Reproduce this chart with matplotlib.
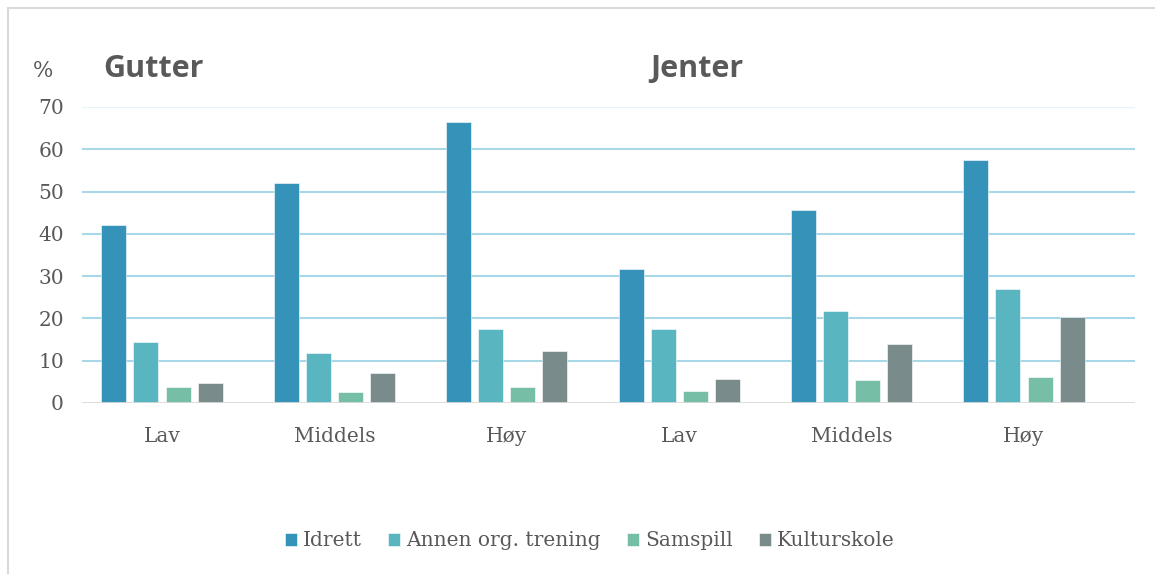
import matplotlib
matplotlib.use("Agg")
import matplotlib.pyplot as plt
from matplotlib.lines import Line2D
import numpy as np

categories = ["Lav", "Middels", "Høy", "Lav", "Middels", "Høy"]
series_names = ["Idrett", "Annen org. trening", "Samspill", "Kulturskole"]
idrett = [42.0, 52.1, 66.5, 31.6, 45.7, 57.5]
annen = [14.4, 11.9, 17.6, 17.6, 21.8, 27.0]
samspill = [3.8, 2.6, 3.9, 2.9, 5.4, 6.2]
kulturskole = [4.7, 7.2, 12.2, 5.7, 13.9, 20.4]
yticks = [0, 10, 20, 30, 40, 50, 60, 70]
colors = ["#3593BA", "#59B5BF", "#76BEA6", "#7A8B8C"]

fig = plt.figure(figsize=(11.55, 5.74), dpi=100)
W, H = 1155, 574
ax = fig.add_axes([82 / W, 1 - 403 / H, (1135 - 82) / W, (403 - 107) / H])

x = np.arange(len(categories))
pitch = 0.186
width = 0.145
data = [idrett, annen, samspill, kulturskole]
for i, (name, vals, c) in enumerate(zip(series_names, data, colors)):
    ax.bar(x + (i - 1.5) * pitch, vals, width=width, color=c, label=name,
           edgecolor="white", linewidth=0.4, zorder=3)

ax.set_ylim(0, 70)
ax.set_xlim(-0.464, 5.644)
ax.set_yticks(yticks)
for y in yticks[1:]:
    col = "#e6f3f9" if y == 70 else "#a8d8e8"
    ax.axhline(y, color=col, lw=1.5, zorder=1)
ax.axhline(0, color="#d9d9d9", lw=2, zorder=4)

for s in ax.spines.values():
    s.set_visible(False)
ax.tick_params(axis="both", length=0, colors="#595959", labelsize=14.5)
ax.tick_params(axis="y", pad=13)
ax.tick_params(axis="x", pad=17)
ax.set_xticks(x)
ax.set_xticklabels(categories)
for lbl in ax.get_xticklabels() + ax.get_yticklabels():
    lbl.set_fontfamily("DejaVu Serif")
    lbl.set_color("#595959")

fig.text(43 / W, 1 - 71 / H, "%", ha="center", va="center", fontsize=15.5,
         family="DejaVu Serif", color="#595959")
fig.text(153 / W, 1 - 69 / H, "Gutter", ha="center", va="center", fontsize=22,
         family="Open Sans", weight="bold", color="#595959")
fig.text(697 / W, 1 - 69 / H, "Jenter", ha="center", va="center", fontsize=22,
         family="Open Sans", weight="bold", color="#595959")

leg = fig.legend(loc="center", bbox_to_anchor=(590 / W, 1 - 541 / H), ncol=4,
                 frameon=False, handlelength=0.6, handleheight=0.6,
                 handletextpad=0.3, columnspacing=1.3,
                 prop={"family": "DejaVu Serif", "size": 14.5})
for t in leg.get_texts():
    t.set_color("#595959")

fig.add_artist(Line2D([8 / W, 8 / W], [0, 1 - 8 / H], color="#d9d9d9", lw=1.5,
                      transform=fig.transFigure))
fig.add_artist(Line2D([8 / W, 1], [1 - 8 / H, 1 - 8 / H], color="#d9d9d9", lw=1.5,
                      transform=fig.transFigure))

fig.savefig("out.png", dpi=100, facecolor="white")
